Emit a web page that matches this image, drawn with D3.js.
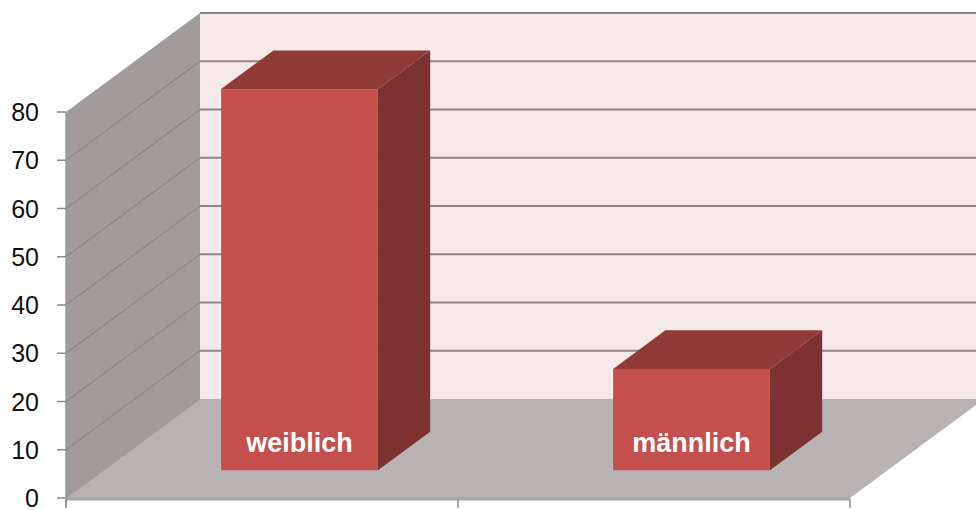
<!DOCTYPE html>
<html>
<head>
<meta charset="utf-8">
<script src="https://cdn.jsdelivr.net/npm/d3@7"></script>
<style>
  html, body { margin: 0; padding: 0; background: #fff; }
  svg { display: block; }
</style>
</head>
<body>
<div id="chart"></div>
<script>
// data
const categories = ['weiblich', 'männlich'];
const values = [79, 21];
const yTicks = [0, 10, 20, 30, 40, 50, 60, 70, 80];

const W = 976, H = 510;
const DX = 134, DY = 99;          // full depth offset of the 3d box
const barDepth0 = 0.28, barDepth1 = 0.67;

const svg = d3.select('#chart').append('svg').attr('width', W).attr('height', H);

const x = d3.scaleBand().domain(categories).range([66, 850]);
const y = d3.scaleLinear().domain([0, 80]).range([498, 112]);

// project a front-plane point back by depth fraction d
const P = (px, py, d) => [px + d * DX, py - d * DY];
const poly = pts => pts.map(p => p.join(',')).join(' ');

const x0 = x.range()[0], x1 = x.range()[1];
const yTop = y(80), yBot = y(0);

// back wall
svg.append('polygon')
  .attr('points', poly([P(x0, yTop, 1), P(x1, yTop, 1), P(x1, yBot, 1), P(x0, yBot, 1)]))
  .attr('fill', '#f4e8e8');
// left wall
svg.append('polygon')
  .attr('points', poly([[x0, yTop], P(x0, yTop, 1), P(x0, yBot, 1), [x0, yBot]]))
  .attr('fill', '#a19b9b');
// floor
svg.append('polygon')
  .attr('points', poly([[x0, yBot], [x1, yBot], P(x1, yBot, 1), P(x0, yBot, 1)]))
  .attr('fill', '#b9b2b2');

// back wall gridlines
svg.selectAll('.bg').data(yTicks.filter(t => t > 0)).join('line')
  .attr('x1', d => P(x0, y(d), 1)[0]).attr('x2', d => P(x1, y(d), 1)[0])
  .attr('y1', d => P(x0, y(d), 1)[1]).attr('y2', d => P(x1, y(d), 1)[1])
  .attr('stroke', '#8c8888').attr('stroke-width', 2);

// left wall gridlines
svg.selectAll('.lg').data(yTicks.filter(t => t > 0 && t < 80)).join('line')
  .attr('x1', x0).attr('y1', d => y(d))
  .attr('x2', d => P(x0, y(d), 1)[0]).attr('y2', d => P(x0, y(d), 1)[1])
  .attr('stroke', '#8a8484').attr('stroke-width', 1.2);
svg.append('line')
  .attr('x1', x0).attr('y1', yBot).attr('x2', P(x0, yBot, 1)[0]).attr('y2', P(x0, yBot, 1)[1])
  .attr('stroke', '#9a9494').attr('stroke-width', 1);

// axes
svg.append('line').attr('x1', x0).attr('x2', x0).attr('y1', yTop).attr('y2', yBot + 9)
  .attr('stroke', '#9a9a9a').attr('stroke-width', 1.5);
svg.append('line').attr('x1', x0).attr('x2', x1).attr('y1', yBot + 1).attr('y2', yBot + 1)
  .attr('stroke', '#a6a6a6').attr('stroke-width', 3);
svg.selectAll('.yt').data(yTicks).join('line')
  .attr('x1', x0 - 9).attr('x2', x0).attr('y1', d => y(d)).attr('y2', d => y(d))
  .attr('stroke', '#8a8a8a').attr('stroke-width', 1.5);
svg.selectAll('.yl').data(yTicks).join('text')
  .attr('x', x0 - 27).attr('y', d => y(d) + 9)
  .attr('text-anchor', 'end')
  .attr('font-family', 'Liberation Sans, Arial, sans-serif')
  .attr('font-size', '25px').attr('fill', '#111').text(d => d);
const xTickPos = categories.map(c => x(c)).concat([x1]);
svg.selectAll('.xt').data(xTickPos).join('line')
  .attr('x1', d => d).attr('x2', d => d).attr('y1', yBot + 1).attr('y2', yBot + 10)
  .attr('stroke', '#8a8a8a').attr('stroke-width', 1.5);

// bars
const bw = x.bandwidth() * 0.4;
const bars = svg.selectAll('.bar').data(categories.map((c, i) => ({ c, v: values[i] }))).join('g');

bars.each(function (d) {
  const g = d3.select(this);
  const bx0 = x(d.c) + x.bandwidth() * 0.3, bx1 = bx0 + bw;
  const yt = y(d.v), yb = y(0);
  // right side
  g.append('polygon')
    .attr('points', poly([P(bx1, yt, barDepth0), P(bx1, yt, barDepth1), P(bx1, yb, barDepth1), P(bx1, yb, barDepth0)]))
    .attr('fill', '#7c3230');
  // top
  g.append('polygon')
    .attr('points', poly([P(bx0, yt, barDepth0), P(bx0, yt, barDepth1), P(bx1, yt, barDepth1), P(bx1, yt, barDepth0)]))
    .attr('fill', '#8f3a37');
  // front
  const f0 = P(bx0, yt, barDepth0), f1 = P(bx1, yb, barDepth0);
  g.append('rect')
    .attr('x', f0[0]).attr('y', f0[1]).attr('width', f1[0] - f0[0]).attr('height', f1[1] - f0[1])
    .attr('fill', '#c4504e');
  g.append('text')
    .attr('x', (f0[0] + f1[0]) / 2).attr('y', f1[1] - 18)
    .attr('text-anchor', 'middle')
    .attr('font-family', 'Liberation Sans, Arial, sans-serif')
    .attr('font-weight', 'bold').attr('font-size', '27px').attr('fill', '#fff')
    .text(d.c);
});
</script>
</body>
</html>
